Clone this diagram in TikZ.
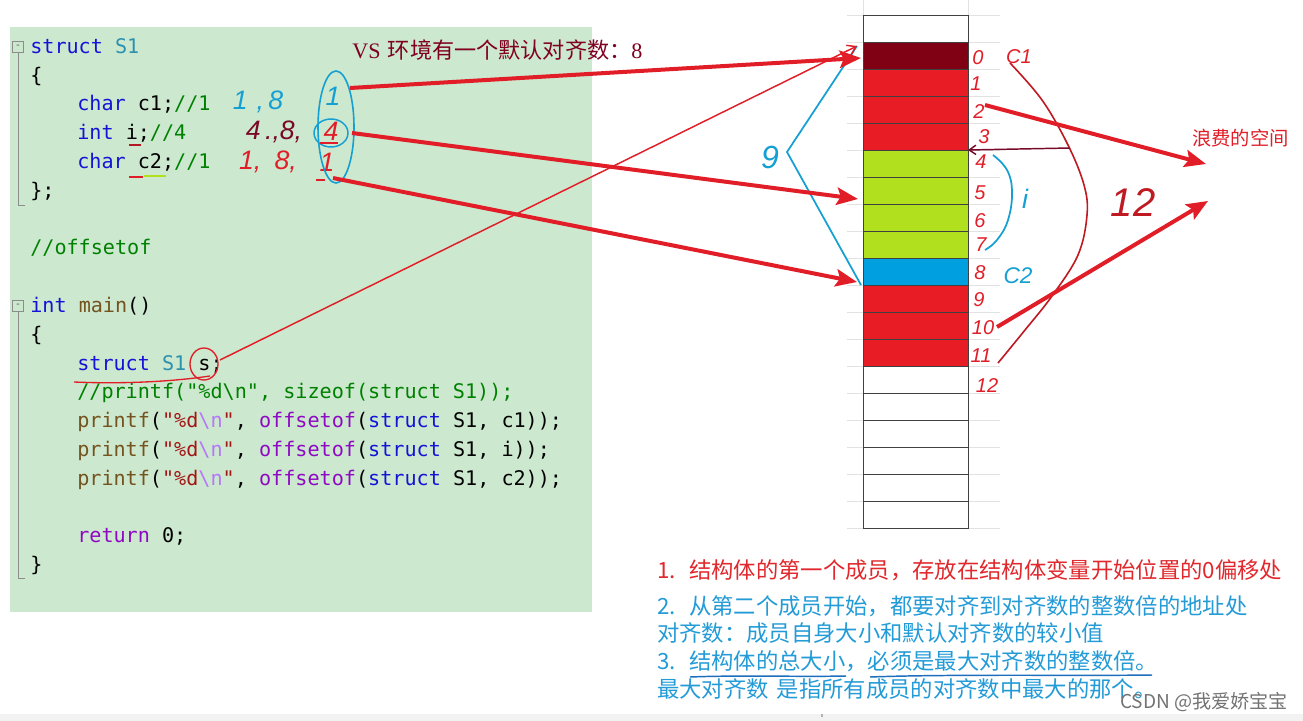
\documentclass[tikz,border=0pt]{standalone}
\usepackage{fontspec}
\setmainfont{Liberation Serif}
\setmonofont{DejaVu Sans Mono}
\newfontfamily\cjk{Noto Sans CJK SC}
\newfontfamily\hand{Liberation Sans}
\usetikzlibrary{arrows.meta,calc}
\definecolor{panel}{RGB}{204,232,207}
\definecolor{kw}{RGB}{20,20,215}
\definecolor{ty}{RGB}{43,145,175}
\definecolor{cm}{RGB}{0,128,0}
\definecolor{fnc}{RGB}{116,83,31}
\definecolor{strc}{RGB}{163,21,21}
\definecolor{escc}{RGB}{183,118,251}
\definecolor{mac}{RGB}{143,8,196}
\definecolor{darkred}{RGB}{128,0,20}
\definecolor{hred}{RGB}{232,28,36}
\definecolor{lime}{RGB}{176,224,30}
\definecolor{cellblue}{RGB}{0,160,224}
\definecolor{hblue}{RGB}{20,160,210}
\definecolor{inkred}{RGB}{225,30,40}
\definecolor{txtred}{RGB}{225,40,45}
\definecolor{txtblue}{RGB}{35,155,215}
\definecolor{ulblue}{RGB}{30,110,190}
\definecolor{vsred}{RGB}{128,0,32}
\definecolor{gridc}{RGB}{226,226,226}
\definecolor{wine}{RGB}{120,10,40}
\begin{document}
\begin{tikzpicture}[x=0.75pt,y=-0.75pt,
  code/.style={anchor=base west,inner sep=0pt,font=\ttfamily\fontsize{15.1}{17}\selectfont},
  cell/.style={draw=black!75,line width=0.7pt,minimum width=78.75pt,minimum height=20.25pt,inner sep=0pt,outer sep=0pt},
  colnum/.style={text=inkred,font=\hand\itshape\fontsize{15}{15}\selectfont,inner sep=0pt},
  handred/.style={text=inkred,font=\hand\itshape\fontsize{20}{20}\selectfont,inner sep=0pt},
  handblue/.style={text=hblue,font=\hand\itshape\fontsize{20}{20}\selectfont,inner sep=0pt},
  handwine/.style={text=wine,font=\hand\itshape\fontsize{20}{20}\selectfont,inner sep=0pt},
  bigarrow/.style={inkred,line width=3pt,-{Stealth[length=16pt,width=13pt,inset=3pt]}},
  thinred/.style={inkred,line width=1.1pt},
  thinblue/.style={hblue,line width=1.3pt},
  rule/.style={anchor=base west,inner sep=0pt,font=\cjk\fontsize{16.75}{18}\selectfont},
  fold/.style={draw=black!45,line width=0.6pt,minimum width=8pt,minimum height=8pt,inner sep=0pt,font=\ttfamily\fontsize{8}{8}\selectfont,text=black!60}
]
\useasboundingbox (0,0) rectangle (1303,721);
\fill[white] (0,0) rectangle (1303,721);
\fill[black!5] (0,714) rectangle (1303,721);
\fill[black!30] (821,714) rectangle (823,717);

% code panel
\fill[panel] (10,27) rectangle (592,612);

% fold markers
\node[fold] (f1) at (18,47) {-};
\draw[black!45,line width=0.6pt] (f1.south) -- (18,205) -- (25,205);
\node[fold] (f2) at (18,306) {-};
\draw[black!45,line width=0.6pt] (f2.south) -- (18,578) -- (25,578);

% code
\node[code] (l1) at (30,53) {\textcolor{kw}{struct} \textcolor{ty}{S1}};
\node[code] (l2) at (30,82) {\{};
\node[code] (l3) at (77,110) {\textcolor{kw}{char} c1;\textcolor{cm}{//1}};
\node[code] (l4) at (77,139) {\textcolor{kw}{int} i;\textcolor{cm}{//4}};
\node[code] (l5) at (77,168) {\textcolor{kw}{char} c2;\textcolor{cm}{//1}};
\node[code] (l6) at (30,197) {\};};
\node[code] (l7) at (30,254) {\textcolor{cm}{//offsetof}};
\node[code] (l8) at (30,312) {\textcolor{kw}{int} \textcolor{fnc}{main}()};
\node[code] (l9) at (30,341) {\{};
\node[code] (l10) at (77,370) {\textcolor{kw}{struct} \textcolor{ty}{S1} s;};
\node[code] (l11) at (77,398) {\textcolor{cm}{//printf("\%d\textbackslash n", sizeof(struct S1));}};
\node[code] (l12) at (77,427) {\textcolor{fnc}{printf}(\textcolor{strc}{"\%d}\textcolor{escc}{\textbackslash n}\textcolor{strc}{"}, \textcolor{mac}{offsetof}(\textcolor{kw}{struct} S1, c1));};
\node[code] (l13) at (77,456) {\textcolor{fnc}{printf}(\textcolor{strc}{"\%d}\textcolor{escc}{\textbackslash n}\textcolor{strc}{"}, \textcolor{mac}{offsetof}(\textcolor{kw}{struct} S1, i));};
\node[code] (l14) at (77,485) {\textcolor{fnc}{printf}(\textcolor{strc}{"\%d}\textcolor{escc}{\textbackslash n}\textcolor{strc}{"}, \textcolor{mac}{offsetof}(\textcolor{kw}{struct} S1, c2));};
\node[code] (l15) at (77,542) {\textcolor{mac}{return} 0;};
\node[code] (l16) at (30,571) {\}};

% handwritten annotations in code
\node[handblue] (h1) at (258,102) {1\,\,,\,8};
\node[handblue] (e1) at (333,96) {1};
\node[handwine] (h2) at (274,132) {4\,.,8,};
\node[handred] (e2) at (331,131) {4};
\node[handred] (h3) at (268,162) {1,\,\,\,8,};
\node[handred] (e3) at (327,162) {1};
\draw[hblue,line width=1.2pt] (336,127) ellipse [x radius=18,y radius=56];
\draw[hblue,line width=1.1pt] (331,133) ellipse [x radius=17,y radius=14];
\draw[inkred,line width=1pt] (320,143) -- (338,143);
\draw[inkred,line width=1pt] (316,180) -- (325,180);
\draw[inkred!80!black,line width=1.2pt] (129,145) -- (141,145);
\draw[inkred,line width=1.2pt] (129,177) -- (143,177);
\draw[lime,line width=1.2pt] (144,176) -- (166,176);
\draw[inkred,line width=1pt] (204,364) ellipse [x radius=14,y radius=16];
\draw[inkred,line width=1pt] (74,382) .. controls (120,384) and (170,382) .. (210,376);

% VS text
\node[anchor=base west,inner sep=0pt,text=vsred,font=\fontsize{16.6}{18}\selectfont] (vs) at (352,58) {VS\,\,{\cjk 环境有一个默认对齐数：}8};

% memory grid lines
\foreach \yy in {15,42,...,528} \draw[gridc,line width=0.6pt] (847,\yy) -- (1000,\yy);
\draw[gridc,line width=0.6pt] (863,0) -- (863,15) (968,0) -- (968,15);

% memory cells
\node[cell,fill=white] (mt) at (915.5,28.5) {};
\foreach \i/\c in {0/darkred,1/hred,2/hred,3/hred,4/lime,5/lime,6/lime,7/lime,8/cellblue,9/hred,10/hred,11/hred}{
  \node[cell,fill=\c] (m\i) at (915.5,{55.5+27*\i}) {};
}
\foreach \k in {1,...,6}{
  \node[cell,fill=white] (b\k) at (915.5,{352.5+27*\k}) {};
}

% offsets
\foreach \n/\xx/\yy in {0/978/58,1/976/84,2/979/112,3/984/137,4/981/162,5/980/193,6/980/221,7/981/245,8/980/273,9/979/300,10/983/328,11/981/356,12/987/386}{
  \node[colnum] (n\n) at (\xx,\yy) {\n};
}
\node[text=inkred,font=\hand\itshape\fontsize{15}{15}\selectfont,inner sep=0pt] (lc1) at (1019,57) {C1};
\node[text=hblue,font=\hand\itshape\fontsize{17}{17}\selectfont,inner sep=0pt] (lc2) at (1018,276) {C2};
\node[text=hblue,font=\hand\itshape\fontsize{20}{20}\selectfont,inner sep=0pt] (li) at (1025,199) {i};
\node[text=inkred!85!black,font=\hand\itshape\fontsize{30}{30}\selectfont,inner sep=0pt] (l12n) at (1133,203) {12};
\node[text=hblue,font=\hand\itshape\fontsize{24}{24}\selectfont,inner sep=0pt] (l9n) at (770,157) {9};

% brackets / curves
\coordinate (bt) at (857,46);
\coordinate (bv) at (787,152);
\coordinate (bb) at (861,285);
\draw[thinblue,line join=miter] (bt) -- (bv) -- (bb);
\draw[thinblue] plot[smooth,tension=0.7] coordinates {(993,155) (1007,170) (1012,192) (1008,220) (997,240) (985,250)};
\draw[inkred!85!black,line width=1.2pt] plot[smooth,tension=0.6] coordinates {(1010,63) (1042,100) (1068,145) (1084,185) (1087,215) (1078,255) (1052,296) (1025,330) (998,363)};

% arrows
\coordinate (s1) at (350,88);
\coordinate (t1) at (861,58);
\coordinate (s2) at (352,133);
\coordinate (t2) at (858,199);
\coordinate (s3) at (333,178);
\coordinate (t3) at (857,282);
\coordinate (s4) at (220,360);
\coordinate (t4) at (857,46);
\coordinate (s5) at (985,105);
\coordinate (t5) at (1206,164);
\coordinate (s6) at (997,327);
\coordinate (t6) at (1208,201);
\coordinate (s7) at (1070,148);
\draw[bigarrow] (s1) -- (t1);
\draw[bigarrow] (s2) -- (t2);
\draw[bigarrow] (s3) -- (t3);
\draw[thinred,-{Straight Barb[length=6pt,width=8pt]}] (s4) -- (t4);
\draw[bigarrow] (s5) -- (t5);
\draw[bigarrow] (s6) -- (t6);
\draw[wine,line width=1.1pt,-{Straight Barb[length=5pt,width=7pt]}] (s7) -- (m4.north east);

\node[anchor=base west,inner sep=0pt,text=inkred,font=\cjk\fontsize{14.5}{16}\selectfont] (waste) at (1192,145) {浪费的空间};

% rules text
\node[rule,text=txtred] (r1) at (657,578) {1.\hspace{10pt}结构体的第一个成员，存放在结构体变量开始位置的0偏移处};
\node[rule,text=txtblue] (r2) at (657,614) {2.\hspace{10pt}从第二个成员开始，都要对齐到对齐数的整数倍的地址处};
\node[rule,text=txtblue] (r3) at (657,641) {对齐数：成员自身大小和默认对齐数的较小值};
\node[rule,text=txtblue] (r4) at (657,669) {3.\hspace{10pt}结构体的总大小，必须是最大对齐数的整数倍。};
\node[rule,text=txtblue] (r5) at (657,697) {最大对齐数\hspace{6pt}是指所有成员的对齐数中最大的那个。};
\draw[ulblue,line width=1.1pt] (690,677) .. controls (740,675) and (800,677) .. (846,676);
\draw[ulblue,line width=1.1pt] (870,677) .. controls (950,674) and (1080,676) .. (1152,675);

\node[anchor=base east,inner sep=0pt,text=black!55,font=\cjk\fontsize{14.3}{15}\selectfont] (wm) at (1288,708) {CSDN @我爱娇宝宝};
\end{tikzpicture}
\end{document}
